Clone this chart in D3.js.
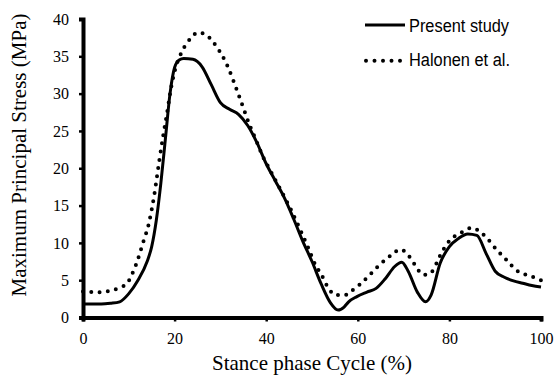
<!DOCTYPE html>
<html><head><meta charset="utf-8">
<script src="https://cdn.jsdelivr.net/npm/d3@7"></script>
<style>body{margin:0;background:#fff}svg{display:block}</style>
</head><body><svg id="c" width="557" height="375"></svg>
<script>
const xTicks = [0,20,40,60,80,100];
const yTicks = [0,5,10,15,20,25,30,35,40];
const seriesNames = ["Present study","Halonen et al."];
const presentX = [0,2,4,6,8,10,12,14,15,16,17,18,19,20,21,22,24,26,28,30,32,34,36,38,40,42,44,46,48,50,52,54,55.7,57,58,59.8,62,64,66,68,69.6,71,73,74.8,76,78,80,82,84,86,88,90,92,94,96,98,100];
const presentY = [1.8,1.8,1.8,1.9,2.1,3.2,5,7.5,9.5,13,18,24,30,33.5,34.5,34.7,34.6,33.6,31.2,28.8,27.9,27.2,25.7,23.4,20.6,18.3,16,13.2,10.2,7.5,4.5,2,1.0,1.4,2.1,2.8,3.4,3.9,5.2,6.8,7.4,6.2,3.4,2.1,3,7.3,9.5,10.6,11.2,11,8.6,6.2,5.4,4.9,4.6,4.3,4.1];
const halonenX = [0,2,4,6,8,9.5,11.4,13.2,14.3,15.5,16.7,17.6,18.3,19.3,20.1,21.5,23.5,25.2,27,29.6,31.4,33.7,35,36.3,37.9,39.4,40.8,44.1,45.2,47.4,49.2,50.7,52.1,53.6,55.4,57.2,58.7,60.4,62.6,64.8,67.4,69.2,70.7,72.2,74.4,76.1,77.9,79.4,81.2,83,84.8,86.7,88.1,90.3,92.5,94.7,96.9,98.8,100];
const halonenY = [3.5,3.4,3.4,3.6,4,4.5,6.8,10.2,12.4,16.2,21.2,24.7,27.2,31,33.2,35.5,37.4,38.2,37.8,35.9,33.9,30.3,28.1,25.9,23.6,21.4,19.8,16,14.7,11.8,9.3,7.1,5.7,3.9,3.0,3.0,3.6,4.4,5.7,7.1,8.4,9.1,8.6,7.3,5.7,6.1,8.2,9.8,10.9,11.5,12,11.5,10.7,9.1,7.7,6.3,5.7,5.3,5.0];

const svg = d3.select("#c");
const x = d3.scaleLinear().domain([0,100]).range([83,541]);
const y = d3.scaleLinear().domain([0,40]).range([317.5,19]);
const serif = "'Liberation Serif','Times New Roman',serif";

const line = d3.line().x(d=>x(d[0])).y(d=>y(d[1])).curve(d3.curveMonotoneX);
const pres = presentX.map((v,i)=>[v,presentY[i]]);
const hal = halonenX.map((v,i)=>[v,halonenY[i]]);

svg.append("path").attr("d",line(hal)).attr("fill","none").attr("stroke","#000")
  .attr("stroke-width",4).attr("stroke-linecap","round").attr("stroke-dasharray","0,8.3");
svg.append("path").attr("d",line(pres)).attr("fill","none").attr("stroke","#000")
  .attr("stroke-width",3);

const xa = svg.append("g").attr("transform",`translate(0,${y(0)})`)
  .call(d3.axisBottom(x).tickValues(xTicks).tickSize(4).tickPadding(11));
const ya = svg.append("g").attr("transform",`translate(${x(0)},0)`)
  .call(d3.axisLeft(y).tickValues(yTicks).tickSize(4).tickPadding(10));
[xa,ya].forEach(g=>{
  g.attr("font-family",serif).attr("font-size",16);
  g.select(".domain").attr("stroke","#000").attr("stroke-width",4);
  g.selectAll(".tick line").attr("stroke","#000").attr("stroke-width",2.5);
  g.selectAll("text").attr("fill","#000");
});

svg.append("text").attr("x",312).attr("y",369.5).attr("text-anchor","middle")
  .attr("font-family",serif).attr("font-size",21)
  .text("Stance phase Cycle (%)");
svg.append("text").attr("transform","translate(26,155) rotate(-90)").attr("text-anchor","middle")
  .attr("font-family",serif).attr("font-size",21)
  .text("Maximum Principal Stress (MPa)");

const lg = svg.append("g");
lg.append("line").attr("x1",365).attr("x2",405).attr("y1",25).attr("y2",25)
  .attr("stroke","#000").attr("stroke-width",3);
lg.append("line").attr("x1",366).attr("x2",401).attr("y1",60.7).attr("y2",60.7)
  .attr("stroke","#000").attr("stroke-width",4).attr("stroke-linecap","round").attr("stroke-dasharray","0,8.5");
lg.append("text").attr("x",409).attr("y",32).text(seriesNames[0])
  .attr("font-family","'Liberation Sans',Arial,sans-serif").attr("font-size",18)
  .attr("textLength",100).attr("lengthAdjust","spacingAndGlyphs");
lg.append("text").attr("x",409).attr("y",65.5).text(seriesNames[1])
  .attr("font-family","'Liberation Sans',Arial,sans-serif").attr("font-size",18)
  .attr("textLength",101).attr("lengthAdjust","spacingAndGlyphs");
</script></body></html>
